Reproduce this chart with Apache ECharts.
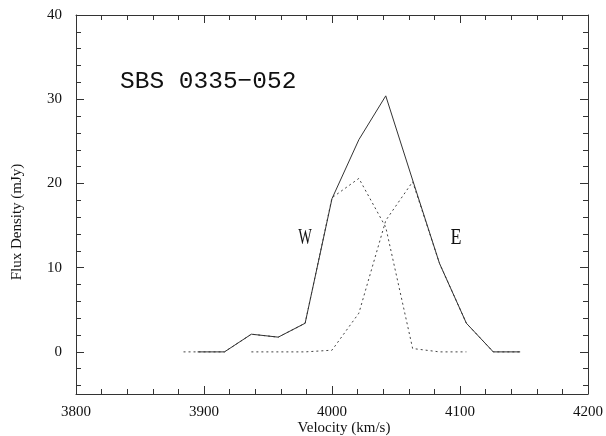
<!DOCTYPE html>
<html>
<head>
<meta charset="utf-8">
<script src="https://cdn.jsdelivr.net/npm/echarts@6/dist/echarts.min.js"></script>
<style>html,body{margin:0;padding:0;background:#fff}#c{width:606px;height:436px}</style>
</head>
<body>
<div id="c"></div>
<script>
// Data
const totalVel = [3895, 3916, 3937, 3958, 3979, 4000, 4021, 4042, 4063, 4084, 4105, 4126, 4147];
const totalFlux = [0, 0, 2.1, 1.75, 3.4, 18.2, 25.2, 30.4, 20.4, 10.5, 3.4, 0, 0];
const wVel = [3884, 3895, 3916, 3937, 3958, 3979, 4000, 4021, 4042, 4063, 4084, 4105];
const wFlux = [0, 0, 0, 2.1, 1.75, 3.4, 18.3, 20.6, 14.8, 0.4, 0, 0];
const eVel = [3937, 3958, 3979, 4000, 4021, 4042, 4063, 4084, 4105, 4126, 4147];
const eFlux = [0, 0, 0, 0.2, 4.6, 15.6, 20.2, 10.5, 3.4, 0, 0];
const yLabels = [0, 10, 20, 30, 40];
const yMinorTicks = [-4, -2, 2, 4, 6, 8, 12, 14, 16, 18, 22, 24, 26, 28, 32, 34, 36, 38];
const title = 'SBS 0335\u2212052';
const xTitle = 'Velocity (km/s)';
const yTitle = 'Flux Density (mJy)';

const pair = (xs, ys) => xs.map((x, i) => [x, ys[i]]);
const axisCol = '#333';
const serif = 'Liberation Serif';

function xAx(pos, labels) {
  return {
    type: 'value', position: pos, min: 3800, max: 4200, interval: 100,
    axisLine: { show: true, onZero: false, lineStyle: { color: axisCol, width: 1 } },
    axisTick: { show: true, inside: true, length: 8, lineStyle: { color: axisCol } },
    minorTick: { show: true, splitNumber: 5, length: 5, lineStyle: { color: axisCol } },
    axisLabel: { show: labels, margin: 11, color: '#111', fontFamily: serif, fontSize: 15,
      formatter: v => String(v) },
    splitLine: { show: false }, minorSplitLine: { show: false }
  };
}
function yAx(pos, major, labels) {
  return {
    type: 'value', position: pos, min: -5, max: 40,
    axisLine: { show: major, onZero: false, lineStyle: { color: axisCol, width: 1 } },
    axisTick: { show: true, inside: true, length: major ? 8 : 5,
      customValues: major ? yLabels : yMinorTicks, lineStyle: { color: axisCol } },
    axisLabel: { show: labels, customValues: yLabels, margin: 14, color: '#111', fontFamily: serif, fontSize: 15,
      formatter: v => String(v) },
    splitLine: { show: false }
  };
}

const chart = echarts.init(document.getElementById('c'), null, { renderer: 'canvas' });
chart.setOption({
  animation: false,
  backgroundColor: '#fff',
  grid: { left: 76, right: 16, top: 15, bottom: 42, containLabel: false },
  xAxis: [xAx('bottom', true), xAx('top', false)],
  yAxis: [yAx('left', true, true), yAx('left', false, false), yAx('right', true, false), yAx('right', false, false)],
  series: [
    { type: 'line', data: pair(wVel, wFlux), showSymbol: false, xAxisIndex: 0, yAxisIndex: 0,
      lineStyle: { color: '#444', width: 1, type: [2, 3] }, z: 2 },
    { type: 'line', data: pair(eVel, eFlux), showSymbol: false, xAxisIndex: 0, yAxisIndex: 0,
      lineStyle: { color: '#444', width: 1, type: [2, 3] }, z: 2 },
    { type: 'line', data: pair(totalVel, totalFlux), showSymbol: false, xAxisIndex: 0, yAxisIndex: 0,
      lineStyle: { color: '#333', width: 1, type: 'solid' }, z: 3 }
  ],
  graphic: [
    { type: 'text', x: 120, y: 82, style: { text: title, fontFamily: 'Liberation Mono', fontSize: 24.5,
      fill: '#111', align: 'left', verticalAlign: 'middle' } },
    { type: 'text', x: 305, y: 238, scaleX: 0.6, style: { text: 'W', fontFamily: serif, fontSize: 24,
      fill: '#111', align: 'center', verticalAlign: 'middle' } },
    { type: 'text', x: 456, y: 238, scaleX: 0.75, style: { text: 'E', fontFamily: serif, fontSize: 24,
      fill: '#111', align: 'center', verticalAlign: 'middle' } },
    { type: 'text', x: 344, y: 428, style: { text: xTitle, fontFamily: serif, fontSize: 15,
      fill: '#111', align: 'center', verticalAlign: 'middle' } },
    { type: 'text', x: 17, y: 222, rotation: Math.PI / 2, style: { text: yTitle, fontFamily: serif, fontSize: 15,
      fill: '#111', align: 'center', verticalAlign: 'middle' } }
  ]
});
</script>
</body>
</html>
